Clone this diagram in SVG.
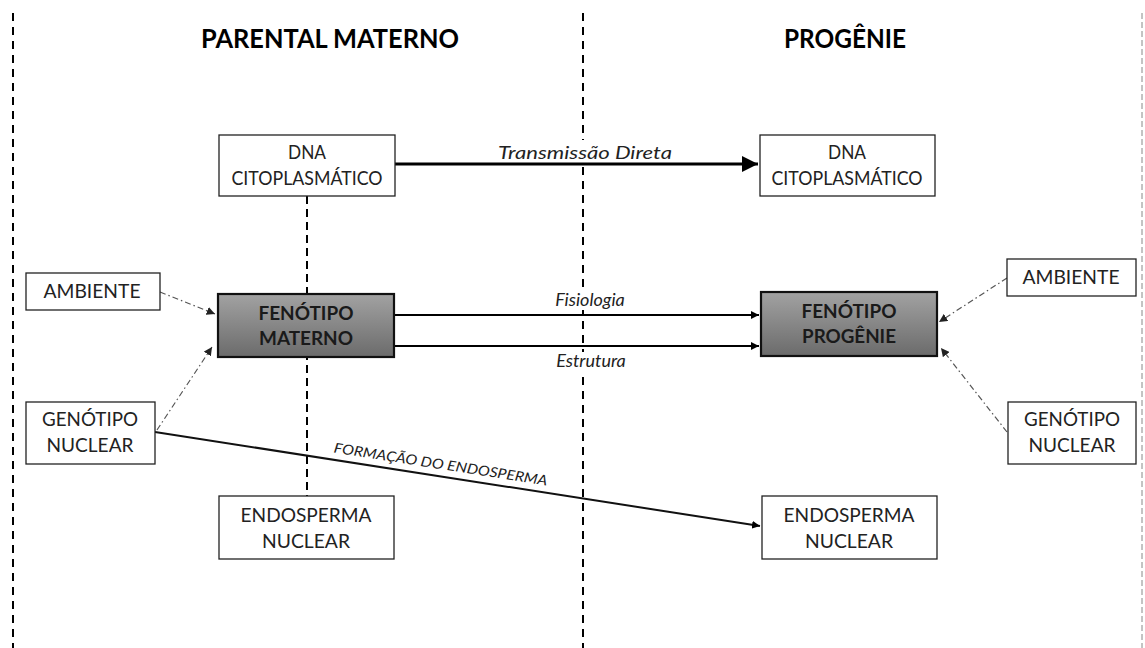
<svg xmlns="http://www.w3.org/2000/svg" width="1145" height="648" viewBox="0 0 1145 648">
<defs>
<linearGradient id="g" x1="0" y1="0" x2="0" y2="1">
<stop offset="0" stop-color="#a2a2a2"/>
<stop offset="1" stop-color="#6b6b6b"/>
</linearGradient>
<marker id="ah" viewBox="0 0 10 10" refX="10" refY="5" markerWidth="5" markerHeight="5" orient="auto" markerUnits="strokeWidth"><path d="M0,0 L10,5 L0,10 z" fill="#000"/></marker>
<marker id="ahs" viewBox="0 0 10 10" refX="10" refY="5" markerWidth="4" markerHeight="4" orient="auto" markerUnits="strokeWidth"><path d="M0,0 L10,5 L0,10 z" fill="#000"/></marker>
<marker id="ahd" viewBox="0 0 10 10" refX="10" refY="5" markerWidth="7" markerHeight="7" orient="auto" markerUnits="strokeWidth"><path d="M0,0 L10,5 L0,10 z" fill="#222"/></marker>
</defs>
<style>
.box{fill:#fff;stroke:#222;stroke-width:1.3}
.fen{fill:url(#g);stroke:#111;stroke-width:2.2}
.t{font-family:Lato,"Open Sans",sans-serif;font-size:19px;fill:#222;text-anchor:middle}
.tb{font-family:Lato,"Open Sans",sans-serif;font-size:19.5px;font-weight:bold;fill:#1a1a1a;text-anchor:middle}
.title{font-family:Lato,"Open Sans",sans-serif;font-size:27px;font-weight:bold;fill:#000;text-anchor:middle}
.lab{font-family:Lato,"Open Sans",sans-serif;font-size:18px;font-style:italic;fill:#222;text-anchor:middle}
.sep{stroke:#000;stroke-width:2;stroke-dasharray:8 6;fill:none}
.dd{stroke:#555;stroke-width:1.2;stroke-dasharray:6 3 1.5 3;fill:none;marker-end:url(#ahd)}
</style>
<g id="separators">
<line class="sep" x1="13" y1="13" x2="13" y2="648"/>
<line class="sep" x1="583" y1="13" x2="583" y2="648"/>
<line x1="1142" y1="13" x2="1142" y2="648" stroke="#888" stroke-width="1" stroke-dasharray="6 3"/>
</g>
<g id="titles">
<text class="title" x="330" y="48" textLength="258" lengthAdjust="spacingAndGlyphs">PARENTAL MATERNO</text>
<text class="title" x="845" y="48" textLength="122" lengthAdjust="spacingAndGlyphs">PROGÊNIE</text>
</g>
<g id="connectors">
<line x1="307" y1="196" x2="307" y2="496" stroke="#000" stroke-width="2" stroke-dasharray="8 5"/>
<rect x="494" y="140" width="182" height="21" fill="#fff"/>
<line x1="395" y1="164" x2="758" y2="164" stroke="#000" stroke-width="3.2" marker-end="url(#ah)"/>
<text class="lab" x="585" y="159" textLength="174" lengthAdjust="spacingAndGlyphs">Transmissão Direta</text>
<rect x="548" y="290" width="84" height="20" fill="#fff"/>
<line x1="395" y1="315" x2="759" y2="315" stroke="#000" stroke-width="2" marker-end="url(#ahs)"/>
<text class="lab" x="590" y="306">Fisiologia</text>
<line x1="395" y1="346" x2="759" y2="346" stroke="#000" stroke-width="2" marker-end="url(#ahs)"/>
<rect x="553" y="352" width="76" height="20" fill="#fff"/>
<text class="lab" x="591" y="367">Estrutura</text>
<line x1="155" y1="432" x2="760" y2="526" stroke="#111" stroke-width="2" marker-end="url(#ahs)"/>
<text x="440" y="469" transform="rotate(8.8 440 469)" font-family="Lato, 'Open Sans', sans-serif" font-size="14" font-style="italic" fill="#222" text-anchor="middle" textLength="216" lengthAdjust="spacingAndGlyphs">FORMAÇÃO DO ENDOSPERMA</text>
<line class="dd" x1="160" y1="292" x2="215" y2="314"/>
<line class="dd" x1="157" y1="430" x2="212" y2="347"/>
<line class="dd" x1="1007" y1="278" x2="939" y2="322"/>
<line class="dd" x1="1007" y1="432" x2="941" y2="348"/>
</g>
<g id="dna-materno">
<rect class="box" x="219" y="135" width="176" height="61"/>
<text class="t" x="307" y="159" textLength="38" lengthAdjust="spacingAndGlyphs">DNA</text>
<text class="t" x="307" y="185" textLength="151" lengthAdjust="spacingAndGlyphs">CITOPLASMÁTICO</text>
</g>
<g id="dna-progenie">
<rect class="box" x="760" y="135" width="175" height="61"/>
<text class="t" x="847" y="159" textLength="38" lengthAdjust="spacingAndGlyphs">DNA</text>
<text class="t" x="847" y="185" textLength="151" lengthAdjust="spacingAndGlyphs">CITOPLASMÁTICO</text>
</g>
<g id="fenotipo-materno">
<rect class="fen" x="218" y="294" width="176" height="63"/>
<text class="tb" x="306" y="320" textLength="95" lengthAdjust="spacingAndGlyphs">FENÓTIPO</text>
<text class="tb" x="306" y="345" textLength="94" lengthAdjust="spacingAndGlyphs">MATERNO</text>
</g>
<g id="fenotipo-progenie">
<rect class="fen" x="761" y="292" width="176" height="64"/>
<text class="tb" x="849" y="318" textLength="95" lengthAdjust="spacingAndGlyphs">FENÓTIPO</text>
<text class="tb" x="849" y="343" textLength="94" lengthAdjust="spacingAndGlyphs">PROGÊNIE</text>
</g>
<g id="ambiente-materno">
<rect class="box" x="26" y="273" width="134" height="37"/>
<text class="t" x="92" y="298" textLength="97" lengthAdjust="spacingAndGlyphs">AMBIENTE</text>
</g>
<g id="ambiente-progenie">
<rect class="box" x="1007" y="259" width="129" height="37"/>
<text class="t" x="1071" y="284" textLength="97" lengthAdjust="spacingAndGlyphs">AMBIENTE</text>
</g>
<g id="genotipo-materno">
<rect class="box" x="26" y="402" width="129" height="62"/>
<text class="t" x="90" y="426" textLength="96" lengthAdjust="spacingAndGlyphs">GENÓTIPO</text>
<text class="t" x="90" y="452" textLength="87" lengthAdjust="spacingAndGlyphs">NUCLEAR</text>
</g>
<g id="genotipo-progenie">
<rect class="box" x="1008" y="402" width="128" height="62"/>
<text class="t" x="1072" y="426" textLength="96" lengthAdjust="spacingAndGlyphs">GENÓTIPO</text>
<text class="t" x="1072" y="452" textLength="87" lengthAdjust="spacingAndGlyphs">NUCLEAR</text>
</g>
<g id="endosperma-materno">
<rect class="box" x="219" y="496" width="175" height="63"/>
<text class="t" x="306" y="522" textLength="131" lengthAdjust="spacingAndGlyphs">ENDOSPERMA</text>
<text class="t" x="306" y="548" textLength="88" lengthAdjust="spacingAndGlyphs">NUCLEAR</text>
</g>
<g id="endosperma-progenie">
<rect class="box" x="762" y="496" width="175" height="63"/>
<text class="t" x="849" y="522" textLength="131" lengthAdjust="spacingAndGlyphs">ENDOSPERMA</text>
<text class="t" x="849" y="548" textLength="88" lengthAdjust="spacingAndGlyphs">NUCLEAR</text>
</g>
</svg>
